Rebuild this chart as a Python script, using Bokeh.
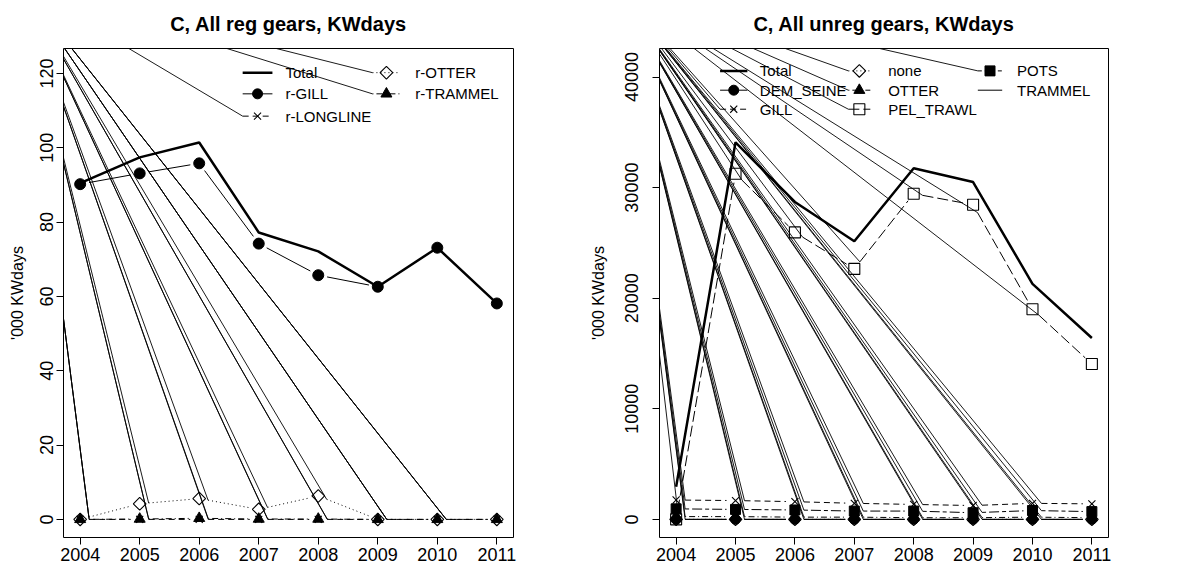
import math
from bokeh.plotting import figure
from bokeh.layouts import row
from bokeh.models import Range1d, FixedTicker, Title
from bokeh.embed import file_html
from bokeh.resources import INLINE
from bokeh.core.properties import value

# ---------------- data ----------------
years = [2004, 2005, 2006, 2007, 2008, 2009, 2010, 2011]

# left panel: regulated gears ('000 KWdays)
reg_total = [90.5, 97.4, 101.4, 77.2, 72.1, 62.6, 73.1, 58.1]
reg_gill = [90.2, 93.1, 95.8, 74.2, 65.7, 62.6, 73.1, 58.1]
reg_longline = [0, 0, 0, 0, 0, 0, 0, 0]
reg_otter = [0, 4.2, 5.6, 2.7, 6.3, 0, 0, 0]
reg_trammel = [0, 0.1, 0.3, 0.1, 0.1, 0, 0, 0]

# right panel: unregulated gears ('000 KWdays)
unreg_total = [2950, 34100, 28700, 25150, 31750, 30500, 21300, 16400]
unreg_dem_seine = [0, 0, 0, 0, 0, 0, 0, 0]
unreg_gill = [1750, 1700, 1600, 1450, 1350, 1250, 1450, 1400]
unreg_none = [0, 0, 0, 0, 0, 0, 0, 0]
unreg_otter = [250, 250, 200, 200, 150, 150, 200, 150]
unreg_pel_trawl = [0, 31250, 25950, 22650, 29450, 28450, 19000, 14050]
unreg_pots = [950, 900, 850, 750, 750, 600, 800, 700]
unreg_trammel = [0, 0, 0, 0, 0, 0, 0, 0]

reg_yticks = [0, 20, 40, 60, 80, 100, 120]
unreg_yticks = [0, 10000, 20000, 30000, 40000]

# ---------------- styles ----------------
FONT = "Liberation Sans"
DASH = {"solid": "solid", "dashed": "6 4", "dotted": "1 3",
        "dotdash": "1 3 6 3", "longdash": "11 4", "twodash": "4 3 10 3"}
FIG_W = 583
FIG_H = 572
BT, BB = 48, 35
GAP = 9  # px gap around points (type="b")


def make_fig(title, xr, yr, bl, br, yticks, tick_standoff, label_standoff):
    p = figure(width=FIG_W, height=FIG_H, x_range=Range1d(*xr), y_range=Range1d(*yr),
               output_backend="svg", toolbar_location=None, title=None,
               min_border_left=bl, min_border_right=br,
               min_border_top=BT, min_border_bottom=BB)
    # small spacer between the frame and the title
    p.add_layout(Title(text=" ", text_font_size="8px", standoff=0), "above")
    p.add_layout(Title(text=title, align="center", text_font=FONT,
                       text_font_size="20px", text_font_style="bold",
                       text_color="black", standoff=6), "above")
    p.grid.visible = False
    p.outline_line_color = "black"
    p.outline_line_alpha = 1.0
    p.outline_line_width = 1
    p.background_fill_color = "white"
    p.border_fill_color = "white"
    p.xaxis.ticker = FixedTicker(ticks=years)
    p.yaxis.ticker = FixedTicker(ticks=yticks)
    for ax in (p.xaxis[0], p.yaxis[0]):
        ax.axis_line_color = None
        ax.major_tick_out = 7
        ax.major_tick_in = 0
        ax.major_tick_line_color = "black"
        ax.minor_tick_line_color = None
        ax.major_label_text_font = FONT
        ax.major_label_text_font_size = "18px"
        ax.major_label_text_color = "black"
    p.xaxis.major_label_standoff = 3
    p.yaxis.major_label_standoff = tick_standoff
    p.yaxis.major_label_orientation = "vertical"
    p.yaxis.axis_label = "'000 KWdays"
    p.yaxis.axis_label_text_font = FONT
    p.yaxis.axis_label_text_font_size = "16px"
    p.yaxis.axis_label_text_font_style = "normal"
    p.yaxis.axis_label_text_color = "black"
    p.yaxis.axis_label_standoff = label_standoff
    return p


def scales(xr, yr, bl, br):
    fw = FIG_W - bl - br
    fh = FIG_H - BT - BB
    return fw / (xr[1] - xr[0]), fh / (yr[1] - yr[0])


def gapped(xs, ys, sx, sy):
    x0s, y0s, x1s, y1s = [], [], [], []
    for i in range(len(xs) - 1):
        dx = (xs[i + 1] - xs[i]) * sx
        dy = (ys[i + 1] - ys[i]) * sy
        L = math.hypot(dx, dy)
        if L <= 2 * GAP:
            continue
        ux, uy = dx / L, dy / L
        x0s.append(xs[i] + GAP * ux / sx)
        y0s.append(ys[i] + GAP * uy / sy)
        x1s.append(xs[i + 1] - GAP * ux / sx)
        y1s.append(ys[i + 1] - GAP * uy / sy)
    return x0s, y0s, x1s, y1s


def draw_marker(p, xs, ys, marker, size):
    if marker is None:
        return
    kind, filled = marker
    angle = 0.0
    if kind == "rdiamond":  # R pch 5: square turned by 45 degrees
        kind, angle = "square", math.pi / 4
    if filled:
        p.scatter(xs, ys, marker=kind, size=size, angle=angle,
                  fill_color="black", line_color="black")
    else:
        p.scatter(xs, ys, marker=kind, size=size, angle=angle, fill_color=None,
                  line_color="black", line_width=1.1)


def draw_panel(p, series, origin, sx, sy, legend_cols):
    """series: list of (name, values, dash, marker, size, lw, kind)"""
    ox, oy = origin
    art_x, art_y = [], []
    for name, vals, dash, marker, size, lw, kind in series:
        if kind == "l":
            p.line(years, vals, line_color="black", line_width=lw, line_dash=DASH[dash])
            continue
        x0s, y0s, x1s, y1s = gapped(years, vals, sx, sy)
        p.segment(x0s, y0s, x1s, y1s, line_color="black", line_width=lw,
                  line_dash=DASH[dash])
        draw_marker(p, years, vals, marker, size)
        if dash != "solid":
            art_x += x0s
            art_y += y0s
    # legend (drawn in plot coordinates, as R's legend())
    for (lx0, lx1, tx), rows in legend_cols:
        for ly, (name, dash, marker, size, lw) in rows:
            p.segment([lx0], [ly], [lx1], [ly], line_color="black", line_width=lw,
                      line_dash=DASH[dash])
            draw_marker(p, [(lx0 + lx1) / 2], [ly], marker, size)
            p.text([tx], [ly], text=[name], text_font=value(FONT), text_font_size="15px",
                   text_baseline="middle", text_align="left", text_color="black")
            if dash != "solid":
                art_x.append(lx0)
                art_y.append(ly)
    # rendering artefacts of the original device: strokes from a stray origin point
    p.segment([ox] * len(art_x), [oy] * len(art_y), art_x, art_y,
              line_color="black", line_width=0.9)


# ---------------- left panel ----------------
L_XR = (2003.72, 2011.28)
L_YR = (-4.87, 126.7)
L_BL, L_BR = 63, 70
p1 = make_fig("C, All reg gears, KWdays", L_XR, L_YR, L_BL, L_BR, reg_yticks, 3, 12)
sx1, sy1 = scales(L_XR, L_YR, L_BL, L_BR)

left_series = [
    ("Total", reg_total, "solid", None, 0, 2.5, "l"),
    ("r-GILL", reg_gill, "solid", ("circle", True), 11, 1, "b"),
    ("r-LONGLINE", reg_longline, "dashed", ("x", False), 10, 1, "b"),
    ("r-OTTER", reg_otter, "dotted", ("rdiamond", False), 9, 1, "b"),
    ("r-TRAMMEL", reg_trammel, "dotdash", ("triangle", True), 11, 1, "b"),
]
left_legend = [
    ((2006.73, 2007.23, 2007.45), [
        (120.2, ("Total", "solid", None, 0, 2.5)),
        (114.5, ("r-GILL", "solid", ("circle", True), 10, 1)),
        (108.5, ("r-LONGLINE", "dashed", ("x", False), 10, 1)),
    ]),
    ((2008.91, 2009.38, 2009.63), [
        (120.2, ("r-OTTER", "dotted", ("rdiamond", False), 9, 1)),
        (114.5, ("r-TRAMMEL", "dotdash", ("triangle", True), 11, 1)),
    ]),
]
draw_panel(p1, left_series, (2003.0, 144.0), sx1, sy1, left_legend)

# ---------------- right panel ----------------
R_XR = (2003.72, 2011.28)
R_YR = (-1640, 42580)
R_BL, R_BR = 76, 58
p2 = make_fig("C, All unreg gears, KWdays", R_XR, R_YR, R_BL, R_BR, unreg_yticks, 14, 16)
sx2, sy2 = scales(R_XR, R_YR, R_BL, R_BR)

right_series = [
    ("Total", unreg_total, "solid", None, 0, 2.5, "l"),
    ("DEM_SEINE", unreg_dem_seine, "solid", ("circle", True), 10, 1, "b"),
    ("GILL", unreg_gill, "dashed", ("x", False), 10, 1, "b"),
    ("none", unreg_none, "dotted", ("rdiamond", False), 9, 1, "b"),
    ("OTTER", unreg_otter, "dotdash", ("triangle", True), 11, 1, "b"),
    ("PEL_TRAWL", unreg_pel_trawl, "longdash", ("square", False), 11, 1, "b"),
    ("POTS", unreg_pots, "twodash", ("square", True), 10, 1, "b"),
    ("TRAMMEL", unreg_trammel, "solid", None, 0, 1, "b"),
]
right_legend = [
    ((2004.74, 2005.20, 2005.41), [
        (40556, ("Total", "solid", None, 0, 2.5)),
        (38809, ("DEM_SEINE", "solid", ("circle", True), 10, 1)),
        (37090, ("GILL", "dashed", ("x", False), 10, 1)),
    ]),
    ((2006.90, 2007.27, 2007.57), [
        (40556, ("none", "dotted", ("rdiamond", False), 9, 1)),
        (38809, ("OTTER", "dotdash", ("triangle", True), 11, 1)),
        (37090, ("PEL_TRAWL", "longdash", ("square", False), 11, 1)),
    ]),
    ((2009.08, 2009.49, 2009.74), [
        (40556, ("POTS", "twodash", ("square", True), 10, 1)),
        (38809, ("TRAMMEL", "solid", None, 0, 1)),
    ]),
]
draw_panel(p2, right_series, (2003.0, 48000), sx2, sy2, right_legend)

layout = row(p1, p2)
open("out.html", "w").write(file_html(layout, INLINE))
